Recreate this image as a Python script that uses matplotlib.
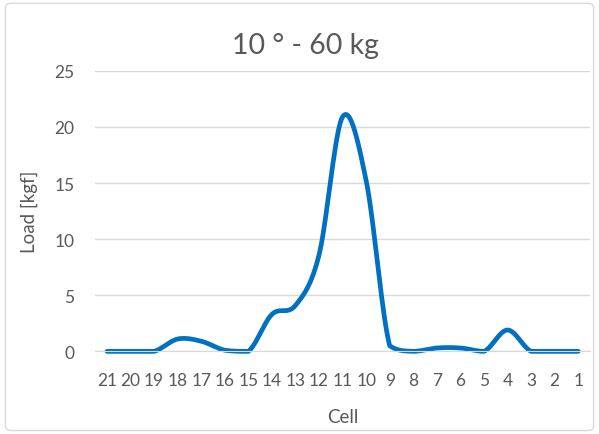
import numpy as np
import matplotlib.pyplot as plt
from matplotlib.patches import FancyBboxPatch

plt.rcParams['font.family'] = ['Lato', 'DejaVu Sans']

cells = ['21', '20', '19', '18', '17', '16', '15', '14', '13', '12', '11',
         '10', '9', '8', '7', '6', '5', '4', '3', '2', '1']
load = [0.0, 0.0, 0.0, 1.1, 0.9, 0.1, 0.0, 3.3, 4.1, 8.6, 20.9,
        15.2, 0.5, 0.0, 0.3, 0.3, 0.0, 1.9, 0.0, 0.0, 0.0]


def smooth(x, y, n=30):
    # Bezier smoothing through every point, like a spreadsheet "smoothed line"
    x = np.asarray(x, float)
    y = np.asarray(y, float)
    xs, ys = [], []
    t = np.linspace(0, 1, n)
    for i in range(len(x) - 1):
        x0, y0 = (x[i - 1], y[i - 1]) if i > 0 else (x[i], y[i])
        x3, y3 = (x[i + 2], y[i + 2]) if i + 2 < len(x) else (x[i + 1], y[i + 1])
        p1 = (x[i], y[i])
        p2 = (x[i + 1], y[i + 1])
        # keep control points from dipping below zero load
        c1 = (p1[0] + (p2[0] - x0) / 6, max(p1[1] + (p2[1] - y0) / 6, 0))
        c2 = (p2[0] - (x3 - p1[0]) / 6, max(p2[1] - (y3 - p1[1]) / 6, 0))
        bx = ((1 - t) ** 3 * p1[0] + 3 * (1 - t) ** 2 * t * c1[0]
              + 3 * (1 - t) * t ** 2 * c2[0] + t ** 3 * p2[0])
        by = ((1 - t) ** 3 * p1[1] + 3 * (1 - t) ** 2 * t * c1[1]
              + 3 * (1 - t) * t ** 2 * c2[1] + t ** 3 * p2[1])
        xs.extend(bx)
        ys.extend(by)
    return xs, ys


fig = plt.figure(figsize=(5.99, 4.35), dpi=100)
fig.patches.append(FancyBboxPatch((0.009, 0.008), 0.982, 0.982,
                                  boxstyle='round,pad=0,rounding_size=0.01',
                                  transform=fig.transFigure, fill=False,
                                  edgecolor='#d9d9d9', linewidth=1))
ax = fig.add_axes([0.159, 0.190, 0.826, 0.645])

pos = np.arange(len(cells))
sx, sy = smooth(pos, load)
ax.plot(sx, sy, color='#0070c0', linewidth=3.4, solid_capstyle='round',
        clip_on=False)

ax.set_xlim(-0.5, len(cells) - 0.5)
ax.set_ylim(0, 25)
ax.set_yticks(range(0, 26, 5))
ax.set_xticks(pos)
ax.set_xticklabels(cells)
ax.grid(axis='y', color='#d9d9d9', linewidth=1)
ax.set_axisbelow(True)
for s in ['top', 'right', 'left']:
    ax.spines[s].set_visible(False)
ax.spines['bottom'].set_color('#d9d9d9')
ax.tick_params(length=0, colors='#595959', labelsize=12.5)
ax.tick_params(axis='x', pad=15)
ax.tick_params(axis='y', pad=15)

fig.text(0.51, 0.895, '10 ° - 60 kg', fontsize=20.5, color='#595959',
         ha='center', va='center')
ax.set_ylabel('Load [kgf]', fontsize=13.5, color='#595959', labelpad=12)
ax.set_xlabel('Cell', fontsize=13.5, color='#595959', labelpad=14)

fig.savefig('out.png', dpi=100)
